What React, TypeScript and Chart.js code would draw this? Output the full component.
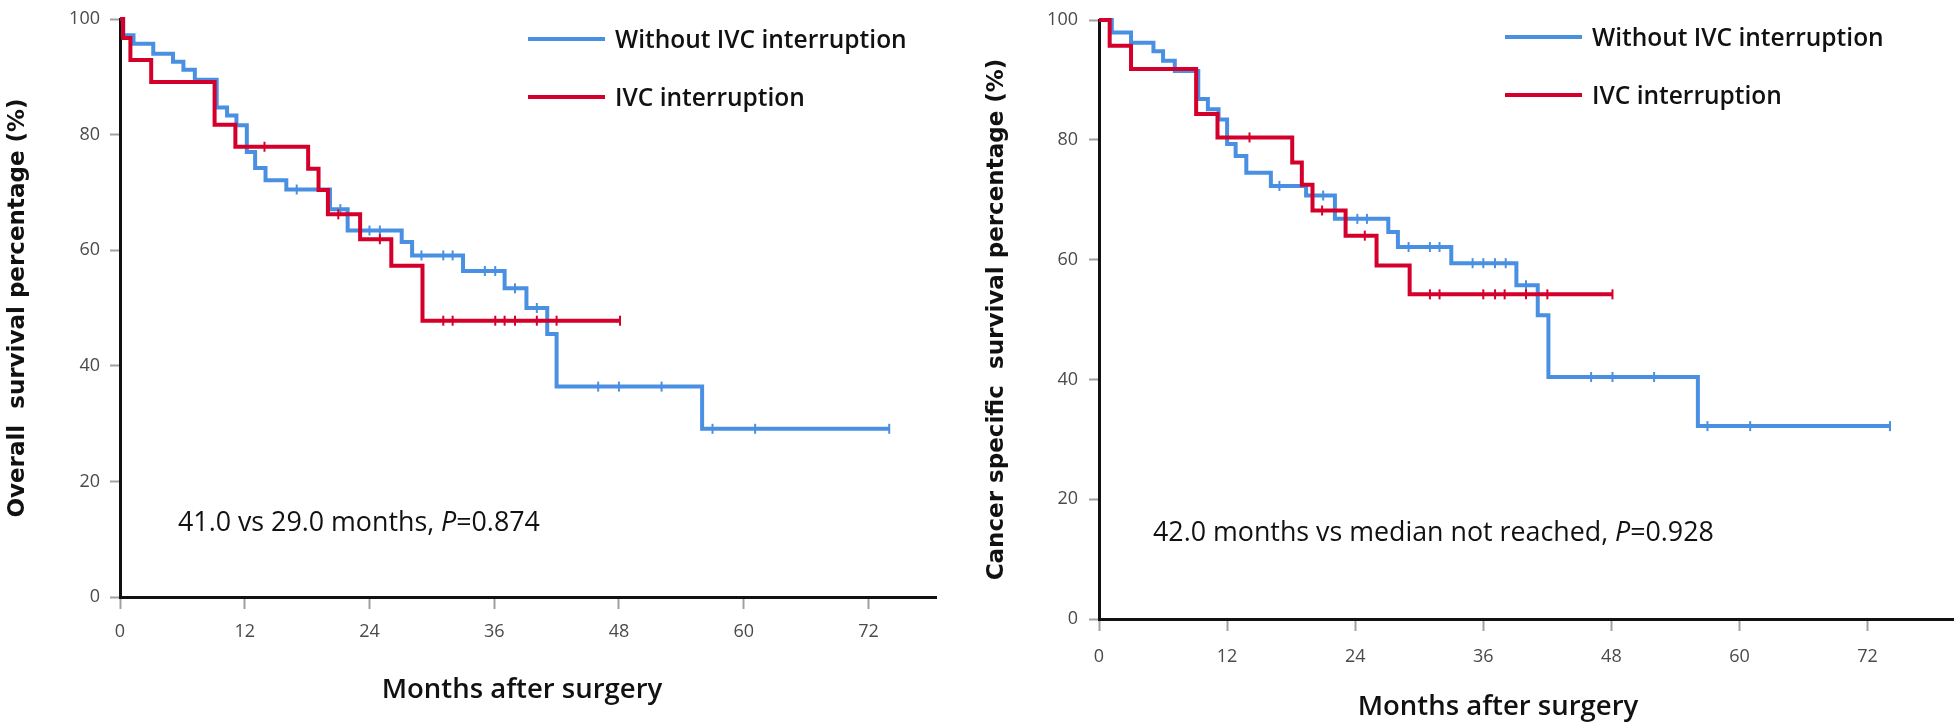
import React, { useEffect, useRef } from "react";
import { Chart, registerables } from "chart.js";

Chart.register(...registerables);

// ---------- data ----------
const X_TICKS = [0, 12, 24, 36, 48, 60, 72];
const Y_TICKS = [0, 20, 40, 60, 80, 100];
const SERIES_LABELS = ["Without IVC interruption", "IVC interruption"];
const X_TITLE = "Months after surgery";
const OS_Y_TITLE = "Overall  survival percentage (%)";
const CSS_Y_TITLE = "Cancer specific  survival percentage (%)";
const OS_NOTE = ["41.0 vs 29.0 months, ", "P", "=0.874"];
const CSS_NOTE = ["42.0 months vs median not reached, ", "P", "=0.928"];

// Overall survival – without IVC interruption
const OS_WITHOUT_TIMES = [0, 0.3, 1.3, 3.2, 5.1, 6.1, 7.2, 9.3, 10.3, 11.2, 12.2, 13.0, 14.0, 16.0, 20.2, 21.9, 27.1, 28.1, 33.0, 37.0, 39.1, 41.1, 42.0, 56.0, 74.0];
const OS_WITHOUT_SURV = [100, 97.2, 95.7, 94.0, 92.6, 91.2, 89.5, 84.7, 83.3, 81.6, 77.0, 74.2, 72.1, 70.5, 67.1, 63.4, 61.4, 59.1, 56.4, 53.4, 50.0, 45.5, 36.4, 29.1, 29.1];
const OS_WITHOUT_CENSORED = [17.0, 21.2, 24.0, 25.0, 29.0, 31.1, 32.0, 35.1, 36.1, 38.0, 40.1, 46.0, 48.0, 52.1, 57.0, 61.1, 74.0];

// Overall survival – IVC interruption
const OS_IVC_TIMES = [0, 0.3, 1.0, 3.0, 9.1, 11.1, 18.1, 19.1, 20.0, 23.1, 26.1, 29.1, 48.1];
const OS_IVC_SURV = [100, 96.7, 92.9, 89.1, 81.7, 77.9, 74.1, 70.4, 66.2, 61.9, 57.3, 47.8, 47.8];
const OS_IVC_CENSORED = [13.9, 21.0, 25.0, 31.1, 32.0, 36.1, 37.0, 38.0, 40.1, 42.0, 48.1];

// Cancer specific survival – without IVC interruption
const CSS_WITHOUT_TIMES = [0, 1.2, 3.0, 5.1, 6.0, 7.1, 9.3, 10.2, 11.2, 12.0, 12.8, 13.8, 16.1, 19.4, 22.1, 27.1, 28.0, 33.0, 39.1, 41.1, 42.1, 56.1, 74.1];
const CSS_WITHOUT_SURV = [100, 97.9, 96.2, 94.8, 93.2, 91.5, 86.8, 85.1, 83.4, 79.3, 77.3, 74.5, 72.3, 70.7, 66.8, 64.6, 62.1, 59.4, 55.7, 50.7, 40.4, 32.2, 32.2];
const CSS_WITHOUT_CENSORED = [16.9, 21.0, 23.1, 24.2, 25.1, 29.0, 31.0, 31.9, 35.0, 36.0, 37.1, 38.1, 40.0, 46.1, 48.1, 52.0, 57.0, 61.0, 74.1];

// Cancer specific survival – IVC interruption
const CSS_IVC_TIMES = [0, 1.0, 3.0, 9.1, 11.1, 18.1, 19.0, 20.0, 23.1, 26.0, 29.1, 48.1];
const CSS_IVC_SURV = [100, 95.7, 91.8, 84.3, 80.4, 76.2, 72.5, 68.2, 64.0, 59.0, 54.2, 54.2];
const CSS_IVC_CENSORED = [14.1, 20.9, 24.9, 31.0, 31.9, 36.0, 37.1, 38.0, 40.0, 42.0, 48.1];

// ---------- styles ----------
const BLUE = "#4a90e2";
const RED = "#d4002b";
const SERIES_COLORS = [BLUE, RED];
const TEXT = "#111111";
const TICK_TEXT = "#4a4a4a";
const TICK_FONT = '"Open Sans", sans-serif';

function stepPoints(times: number[], surv: number[]) {
  return times.map((t, i) => ({ x: t, y: surv[i] }));
}
function censorPoints(times: number[], surv: number[], cens: number[]) {
  return cens.map((c) => {
    let v = surv[0];
    for (let i = 0; i < times.length; i++) if (times[i] <= c) v = surv[i];
    return { x: c, y: v };
  });
}

const decorPlugin = {
  id: "kmDecor",
  afterDraw(chart: any, _args: any, o: any) {
    const ctx = chart.ctx as CanvasRenderingContext2D;
    ctx.save();
    ctx.textBaseline = "middle";
    ctx.textAlign = "left";
    SERIES_LABELS.forEach((label, i) => {
      const y = o.legend.rows[i];
      ctx.strokeStyle = SERIES_COLORS[i];
      ctx.lineWidth = 4;
      ctx.beginPath();
      ctx.moveTo(o.legend.x1, y);
      ctx.lineTo(o.legend.x2, y);
      ctx.stroke();
      ctx.fillStyle = TEXT;
      ctx.font = o.legendFont;
      ctx.fillText(label, o.legend.tx, y + 2);
    });
    let x = o.note.x;
    o.note.parts.forEach((p: string, i: number) => {
      ctx.font = i === 1 ? "italic " + o.noteFont : o.noteFont;
      ctx.fillStyle = TEXT;
      ctx.fillText(p, x, o.note.y);
      x += ctx.measureText(p).width;
    });
    ctx.font = o.xTitleFont;
    ctx.textAlign = "center";
    ctx.fillText(X_TITLE, o.xTitle.x, o.xTitle.y);
    ctx.restore();
  },
};

type Panel = {
  left: number;
  width: number;
  areaLeft: number;
  areaTop: number;
  areaRight: number;
  areaBottom: number;
  xMax: number;
  yTitle: string;
  yTitlePad: number;
  xTickPad: number;
  yTickPad: number;
  without: [number[], number[], number[]];
  ivc: [number[], number[], number[]];
  legend: { x1: number; x2: number; tx: number; rows: number[] };
  note: { x: number; y: number; parts: string[] };
  xTitle: { x: number; y: number };
};

const H = 723;

const PANELS: Panel[] = [
  {
    left: 0,
    width: 960,
    areaLeft: 120,
    areaTop: 10,
    areaRight: 936,
    areaBottom: 597,
    xMax: 78.5,
    yTitle: OS_Y_TITLE,
    yTitlePad: 4,
    xTickPad: 12,
    yTickPad: 10,
    without: [OS_WITHOUT_TIMES, OS_WITHOUT_SURV, OS_WITHOUT_CENSORED],
    ivc: [OS_IVC_TIMES, OS_IVC_SURV, OS_IVC_CENSORED],
    legend: { x1: 528, x2: 605, tx: 615, rows: [39, 97] },
    note: { x: 178, y: 523, parts: OS_NOTE },
    xTitle: { x: 522, y: 690 },
  },
  {
    left: 960,
    width: 1000,
    areaLeft: 139,
    areaTop: 19,
    areaRight: 997,
    areaBottom: 619,
    xMax: 80,
    yTitle: CSS_Y_TITLE,
    yTitlePad: 23,
    xTickPad: 15,
    yTickPad: 11,
    without: [CSS_WITHOUT_TIMES, CSS_WITHOUT_SURV, CSS_WITHOUT_CENSORED],
    ivc: [CSS_IVC_TIMES, CSS_IVC_SURV, CSS_IVC_CENSORED],
    legend: { x1: 545, x2: 622, tx: 632, rows: [37, 95] },
    note: { x: 193, y: 533, parts: CSS_NOTE },
    xTitle: { x: 538, y: 707 },
  },
];

function buildDatasets(p: Panel) {
  const mk = (series: [number[], number[], number[]], label: string, color: string) => [
    {
      label,
      data: stepPoints(series[0], series[1]),
      borderColor: color,
      backgroundColor: color,
      borderWidth: 4,
      stepped: "before",
      pointRadius: 0,
      pointHoverRadius: 0,
      fill: false,
      clip: false,
    },
    {
      label: label + " (censored)",
      data: censorPoints(series[0], series[1], series[2]),
      showLine: false,
      pointStyle: "line",
      pointRotation: 90,
      pointRadius: 5,
      pointHoverRadius: 5,
      pointBorderWidth: 2,
      pointBorderColor: color,
      pointBackgroundColor: color,
      borderColor: color,
      clip: false,
    },
  ];
  // IVC first so it is drawn on top
  return [...mk(p.ivc, SERIES_LABELS[1], RED), ...mk(p.without, SERIES_LABELS[0], BLUE)];
}

function KMChart({ p }: { p: Panel }) {
  const ref = useRef<HTMLCanvasElement>(null);
  useEffect(() => {
    const chart = new Chart(ref.current as HTMLCanvasElement, {
      type: "line",
      data: { datasets: buildDatasets(p) as any },
      plugins: [decorPlugin as any],
      options: {
        responsive: false,
        animation: false,
        events: [],
        layout: {
          padding: { left: 0, top: p.areaTop, right: p.width - p.areaRight, bottom: 0 },
        },
        plugins: {
          legend: { display: false },
          tooltip: { enabled: false },
          kmDecor: {
            legend: p.legend,
            note: p.note,
            xTitle: p.xTitle,
            legendFont: '600 24.5px "Open Sans"',
            noteFont: '400 26.8px "Open Sans"',
            xTitleFont: '600 27.5px "Open Sans"',
          },
        } as any,
        scales: {
          x: {
            type: "linear",
            min: 0,
            max: p.xMax,
            afterFit: (s: any) => {
              s.height = H - p.areaBottom;
            },
            afterBuildTicks: (s: any) => {
              s.ticks = X_TICKS.map((v) => ({ value: v }));
            },
            ticks: {
              includeBounds: false,
              autoSkip: false,
              maxRotation: 0,
              padding: p.xTickPad,
              color: TICK_TEXT,
              font: { family: TICK_FONT, size: 18 },
            },
            grid: {
              display: true,
              drawOnChartArea: false,
              drawTicks: true,
              tickLength: 12,
              tickColor: "#a0a0a0",
              tickWidth: 2,
            },
            border: { display: true, color: "#111", width: 3 },
          },
          y: {
            type: "linear",
            min: 0,
            max: 100,
            afterFit: (s: any) => {
              s.width = p.areaLeft;
            },
            afterBuildTicks: (s: any) => {
              s.ticks = Y_TICKS.map((v) => ({ value: v }));
            },
            ticks: {
              padding: p.yTickPad,
              color: TICK_TEXT,
              font: { family: TICK_FONT, size: 18, lineHeight: 1 },
            },
            grid: {
              display: true,
              drawOnChartArea: false,
              drawTicks: true,
              tickLength: 10,
              tickColor: "#a0a0a0",
              tickWidth: 2,
            },
            border: { display: true, color: "#111", width: 3 },
            title: {
              display: true,
              text: p.yTitle,
              color: TEXT,
              font: { family: '"DejaVu Sans"', weight: "bold", size: 23 },
              padding: { top: p.yTitlePad, bottom: 0 },
            },
          },
        },
      } as any,
    });
    return () => chart.destroy();
  }, []);
  return (
    <canvas
      ref={ref}
      width={p.width}
      height={H}
      style={{ position: "absolute", left: p.left, top: 0, width: p.width, height: H }}
    />
  );
}

export default function App() {
  return (
    <div style={{ position: "absolute", left: 0, top: 0, width: 1960, height: H, background: "#fff" }}>
      {PANELS.map((p, i) => (
        <KMChart key={i} p={p} />
      ))}
    </div>
  );
}
